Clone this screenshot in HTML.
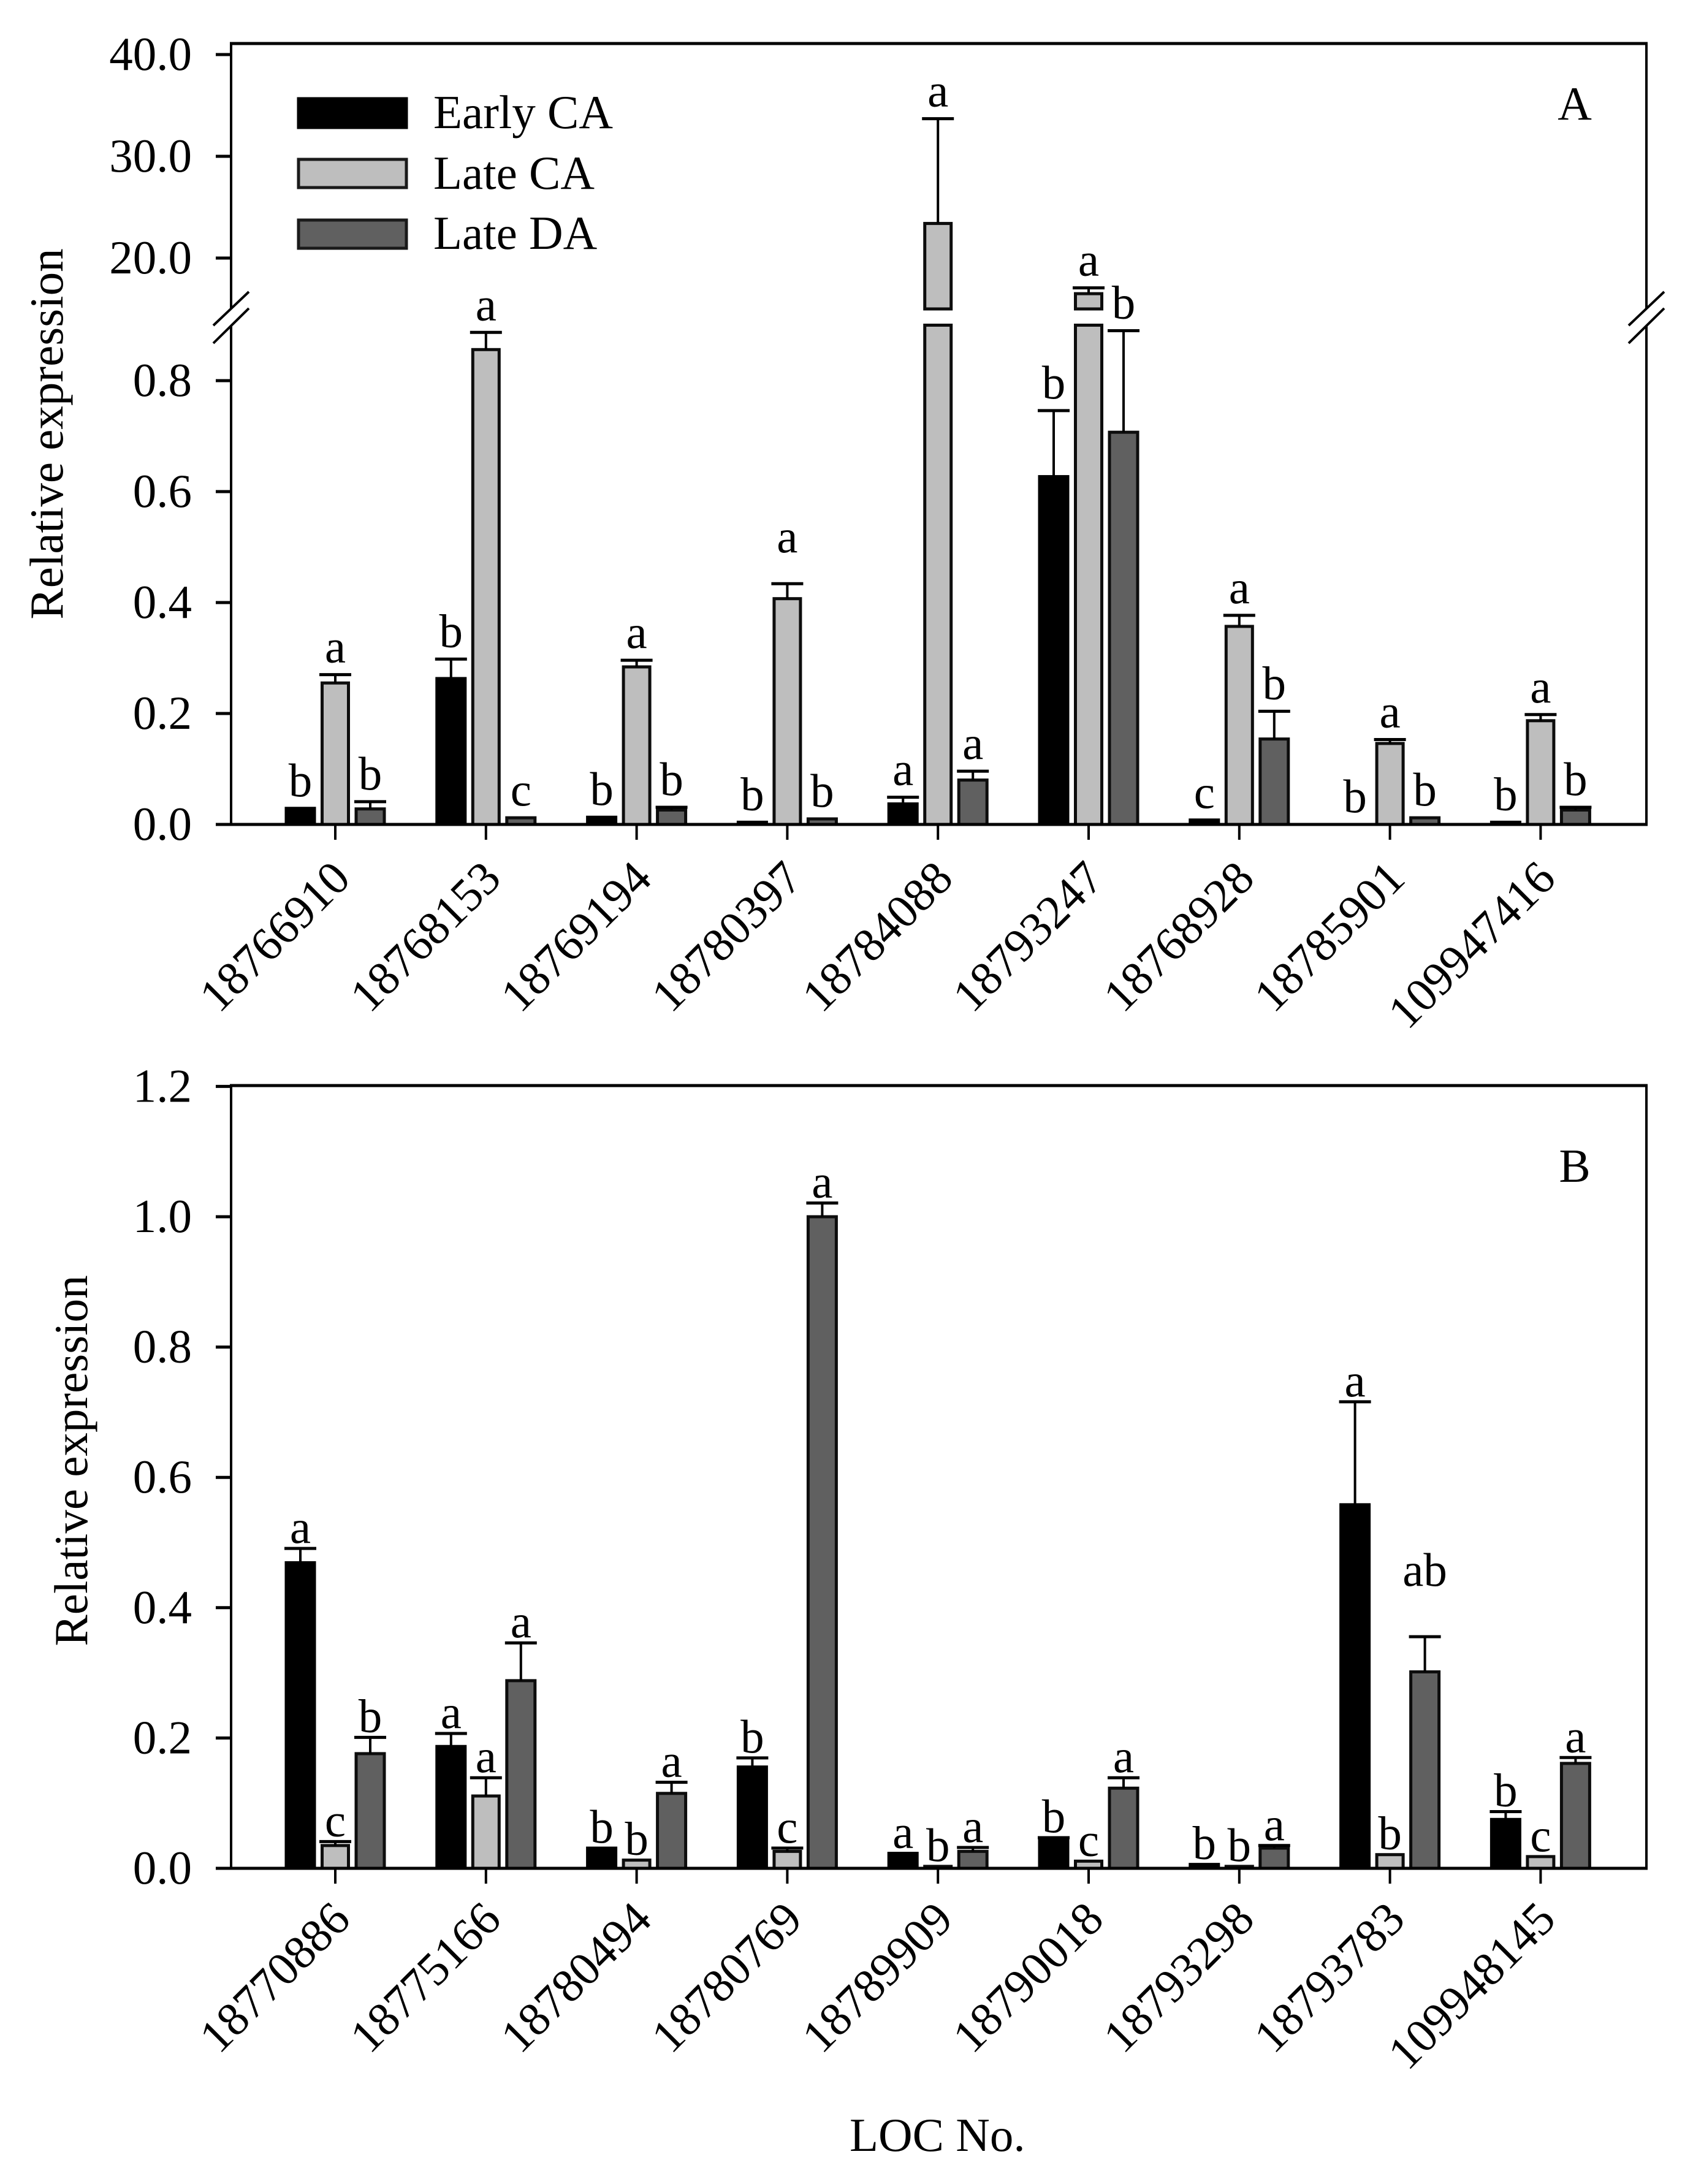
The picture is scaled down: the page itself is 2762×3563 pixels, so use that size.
<!DOCTYPE html>
<html lang="en">
<head>
<meta charset="utf-8">
<title>Relative expression by LOC number</title>
<style>
html,body{margin:0;padding:0;background:#fff;width:2762px;height:3563px;overflow:hidden}
svg{display:block}
text{font-family:"Liberation Serif",serif;font-size:77px;fill:#000}
</style>
</head>
<body>
<svg id="chart" xmlns="http://www.w3.org/2000/svg" width="2762" height="3563" viewBox="0 0 2762 3563">
  <rect x="0" y="0" width="2762" height="3563" fill="#fff"/>
  <g id="panelA"></g>
  <g id="panelB"></g>
  <g>
    <g>
      <rect x="487" y="161" width="176" height="47" fill="#000" stroke="#000" stroke-width="5"/>
      <text x="707" y="209">Early CA</text>
    </g>
    <g>
      <rect x="487" y="260" width="176" height="46" fill="#bebebe" stroke="#1a1a1a" stroke-width="5"/>
      <text x="707" y="308">Late CA</text>
    </g>
    <g>
      <rect x="487" y="359" width="176" height="46" fill="#606060" stroke="#1a1a1a" stroke-width="5"/>
      <text x="707" y="406">Late DA</text>
    </g>
  </g>
  <text transform="translate(102,708) rotate(-90)" text-anchor="middle">Relative expression</text>
  <text transform="translate(142,2383) rotate(-90)" text-anchor="middle">Relative expression</text>
  <text x="1386" y="3509">LOC No.</text>
  <text x="2569" y="195" text-anchor="middle">A</text>
  <text x="2569" y="1928" text-anchor="middle">B</text>
</svg>
<script>
// ---- Panel A data ----
const aCategories = ['18766910','18768153','18769194','18780397','18784088','18793247','18768928','18785901','109947416'];
const aEarlyCA = [0.029,0.263,0.013,0.004,0.037,0.627,0.008,0,0.004];
const aLateCA  = [0.255,0.856,0.284,0.407,23.4,16.5,0.357,0.146,0.187];
const aLateDA  = [0.028,0.012,0.026,0.010,0.080,0.707,0.154,0.012,0.026];
const aEarlyErr = [0,0.035,0,0,0.012,0.119,0,0,0];
const aLateErr  = [0.015,0.031,0.012,0.027,10.3,0.57,0.020,0.007,0.011];
const aDAErr    = [0.013,0,0.005,0,0.016,0.183,0.050,0,0.005];
const aEarlyLetters = ['b','b','b','b','a','b','c','b','b'];
const aLateLetters  = ['a','a','a','a','a','a','a','a','a'];
const aDALetters    = ['b','c','b','b','a','b','b','b','b'];
const aTickValues = [0,0.2,0.4,0.6,0.8,20,30,40];
const aTickLabels = ['0.0','0.2','0.4','0.6','0.8','20.0','30.0','40.0'];

// ---- Panel B data ----
const bCategories = ['18770886','18775166','18780494','18780769','18789909','18790018','18793298','18793783','109948145'];
const bEarlyCA = [0.469,0.187,0.031,0.1555,0.023,0.043,0.006,0.558,0.075];
const bLateCA  = [0.035,0.111,0.0126,0.026,0.003,0.011,0.003,0.021,0.018];
const bLateDA  = [0.176,0.288,0.115,1.0,0.026,0.123,0.031,0.3015,0.161];
const bEarlyErr = [0.022,0.020,0,0.014,0,0.004,0,0.158,0.012];
const bLateErr  = [0.006,0.028,0,0.005,0,0,0,0,0];
const bDAErr    = [0.025,0.058,0.017,0.021,0.006,0.016,0.004,0.054,0.009];
const bEarlyLetters = ['a','a','b','b','a','b','b','a','b'];
const bLateLetters  = ['c','a','b','c','b','c','b','b','c'];
const bDALetters    = ['b','a','a','a','a','a','a','ab','a'];
const bTickValues = [0,0.2,0.4,0.6,0.8,1.0,1.2];
const bTickLabels = ['0.0','0.2','0.4','0.6','0.8','1.0','1.2'];

// ---- Axis functions ----
const LEFT = 377, RIGHT = 2686;
function xCat(i){ return 547 + 245.8 * i; }
function yA(v){ return v <= 0.9 ? 1345 - 905 * v : 421 - (v - 20) * 16.6; }
function yB(v){ return 3048 - 1063 * v; }

const NS = 'http://www.w3.org/2000/svg';
function mk(parent, tag, attrs, text){
  const n = document.createElementNS(NS, tag);
  for (const k in attrs) n.setAttribute(k, attrs[k]);
  if (text !== undefined) n.textContent = text;
  parent.appendChild(n);
  return n;
}
const seriesNames = ['early-ca','late-ca','late-da'];
const fills = ['#000000','#bebebe','#606060'];
const strokes = ['#000','#0d0d0d','#0d0d0d'];
const barWidths = [46,43,46];
const OFFSET = 57, BARSTROKE = 5;

function drawPanel(cfg){
  const g = cfg.root, y = cfg.y, p = cfg.id;
  let el;
  // frame
  el = mk(g,'rect',{x:LEFT,y:cfg.top,width:RIGHT-LEFT,height:cfg.zeroY-cfg.top,fill:'none',stroke:'#000','stroke-width':4});
  
  
  el = mk(g,'line',{x1:LEFT-2,x2:RIGHT+2,y1:cfg.top,y2:cfg.top,stroke:'#000','stroke-width':5});
  
  

  // y ticks
  cfg.tickValues.forEach(function(v,i){
    const ty = y(v);
    let t = mk(g,'line',{x1:LEFT-25,x2:LEFT,y1:ty,y2:ty,stroke:'#000','stroke-width':5});
    
    
    t = mk(g,'text',{x:313,y:ty+25,'text-anchor':'end'},cfg.tickLabels[i]);
    
    
  });

  // bars, error bars, letters
  cfg.categories.forEach(function(cat,i){
    const cx = xCat(i);
    let t = mk(g,'line',{x1:cx,x2:cx,y1:cfg.zeroY,y2:cfg.zeroY+25,stroke:'#000','stroke-width':4});
    
    
    t = mk(g,'text',{transform:'translate('+(cx+28)+','+(cfg.zeroY+cfg.labelDrop)+') rotate(-45)','text-anchor':'end'},cat);
    
    

    for (let s=0;s<3;s++){
      const v = cfg.values[s][i], e = cfg.errors[s][i];
      const bx = cx + (s-1)*OFFSET;
      const w0 = barWidths[s];
      const topY = y(v);
      if (v > 0){
        if (cfg.broken && v > 0.9){
          let b = mk(g,'rect',{x:bx-w0/2,y:y(0.9),width:w0,height:cfg.zeroY-y(0.9),fill:fills[s],stroke:strokes[s],'stroke-width':BARSTROKE});
          
          
          b = mk(g,'rect',{x:bx-w0/2,y:topY,width:w0,height:y(15)-topY,fill:fills[s],stroke:strokes[s],'stroke-width':BARSTROKE});
          
          
        } else {
          const b = mk(g,'rect',{x:bx-w0/2,y:topY,width:w0,height:cfg.zeroY-topY,fill:fills[s],stroke:strokes[s],'stroke-width':BARSTROKE});
          
          
        }
      }
      let headY = topY;
      if (e > 0){
        headY = y(v+e);
        let w = mk(g,'line',{x1:bx,x2:bx,y1:topY,y2:headY,stroke:'#000','stroke-width':4});
        
        
        w = mk(g,'line',{x1:bx-26,x2:bx+26,y1:headY,y2:headY,stroke:'#000','stroke-width':5});
        
        
      }
      const lift = cfg.gap + (cfg.extraLift[i + ':' + s] || 0);
      const l = mk(g,'text',{x:bx,y:headY-lift,'text-anchor':'middle'},cfg.letters[s][i]);
      
      
    }
  });

  // bottom axis line
  el = mk(g,'line',{x1:LEFT-25,x2:RIGHT+2,y1:cfg.zeroY,y2:cfg.zeroY,stroke:'#000','stroke-width':5});
  
  
}

drawPanel({
  id:'panel-a', root:document.getElementById('panelA'), y:yA, top:71, zeroY:1345, labelDrop:92,
  broken:true, gap:20, extraLift:{'3:1':31},
  categories:aCategories,
  values:[aEarlyCA,aLateCA,aLateDA], errors:[aEarlyErr,aLateErr,aDAErr],
  letters:[aEarlyLetters,aLateLetters,aDALetters],
  tickValues:aTickValues, tickLabels:aTickLabels
});
drawPanel({
  id:'panel-b', root:document.getElementById('panelB'), y:yB, top:1771, zeroY:3048, labelDrop:87,
  broken:false, gap:9, extraLift:{'7:2':74},
  categories:bCategories,
  values:[bEarlyCA,bLateCA,bLateDA], errors:[bEarlyErr,bLateErr,bDAErr],
  letters:[bEarlyLetters,bLateLetters,bDALetters],
  tickValues:bTickValues, tickLabels:bTickLabels
});

// axis break marks
const pa = document.getElementById('panelA');
[LEFT, RIGHT].forEach(function(ax, idx){
  const side = idx === 0 ? 'left' : 'right';
  const dx = ax - 377;
  const mask = mk(pa,'polygon',{points:(348+dx)+',531 '+(406+dx)+',476 '+(406+dx)+',503 '+(348+dx)+',560',fill:'#fff'});
  
  
  let s = mk(pa,'line',{x1:348+dx,y1:531,x2:406+dx,y2:476,stroke:'#000','stroke-width':4});
  
  
  s = mk(pa,'line',{x1:348+dx,y1:560,x2:406+dx,y2:503,stroke:'#000','stroke-width':4});
  
  
});
</script>
</body>
</html>
